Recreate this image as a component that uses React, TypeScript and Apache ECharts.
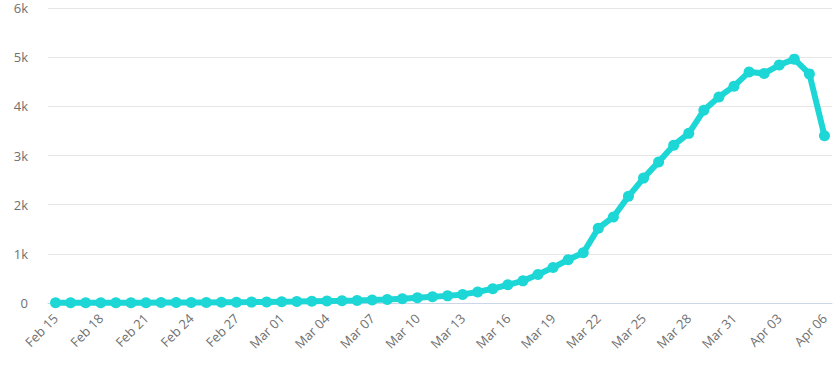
import React, { useEffect, useRef } from "react";
import * as echarts from "echarts";

const categories: string[] = [
  "Feb 15", "Feb 16", "Feb 17", "Feb 18", "Feb 19", "Feb 20", "Feb 21", "Feb 22", "Feb 23", "Feb 24",
  "Feb 25", "Feb 26", "Feb 27", "Feb 28", "Feb 29",
  "Mar 01", "Mar 02", "Mar 03", "Mar 04", "Mar 05", "Mar 06", "Mar 07", "Mar 08", "Mar 09", "Mar 10",
  "Mar 11", "Mar 12", "Mar 13", "Mar 14", "Mar 15", "Mar 16", "Mar 17", "Mar 18", "Mar 19", "Mar 20",
  "Mar 21", "Mar 22", "Mar 23", "Mar 24", "Mar 25", "Mar 26", "Mar 27", "Mar 28", "Mar 29", "Mar 30",
  "Mar 31", "Apr 01", "Apr 02", "Apr 03", "Apr 04", "Apr 05", "Apr 06",
];

const values: number[] = [
  3, 3, 4, 5, 5, 6, 7, 8, 9, 10,
  12, 14, 16, 18, 22,
  26, 30, 35, 40, 45, 52, 60, 70, 85, 105,
  125, 145, 175, 225, 290, 370, 450, 580, 720, 880,
  1020, 1520, 1750, 2170, 2540, 2870, 3210, 3450, 3920, 4190,
  4410, 4700, 4670, 4840, 4960, 4660, 3400,
];

const yTicks: string[] = ["0", "1k", "2k", "3k", "4k", "5k", "6k"];

export default function App() {
  const ref = useRef<HTMLDivElement>(null);
  useEffect(() => {
    document.body.style.margin = "0";
    if (!ref.current) return;
    const chart = echarts.init(ref.current, null, { renderer: "svg" });
    chart.setOption({
      animation: false,
      grid: { left: 48, right: 8, top: 8, bottom: 64, containLabel: false },
      xAxis: {
        type: "category",
        data: categories,
        boundaryGap: true,
        axisLine: { lineStyle: { color: "#ccd6eb", width: 1 } },
        axisTick: { show: false },
        axisLabel: {
          interval: 2,
          rotate: 45,
          color: "#707070",
          fontFamily: "Open Sans",
          fontSize: 13,
          margin: 13,
        },
        splitLine: { show: false },
      },
      yAxis: {
        type: "value",
        min: 0,
        max: 6000,
        interval: 1000,
        axisLine: { show: false },
        axisTick: { show: false },
        axisLabel: {
          color: "#707070",
          fontFamily: "Open Sans",
          fontSize: 13,
          margin: 20,
          formatter: (v: number) => yTicks[Math.round(v / 1000)],
        },
        splitLine: { lineStyle: { color: "#e6e6e6", width: 1 } },
      },
      series: [
        {
          type: "line",
          data: values,
          symbol: "circle",
          symbolSize: 11,
          showAllSymbol: true,
          lineStyle: { color: "#1dd6d6", width: 6 },
          itemStyle: { color: "#1dd6d6" },
        },
      ],
    });
    return () => chart.dispose();
  }, []);
  return <div ref={ref} style={{ width: 840, height: 367 }} />;
}
